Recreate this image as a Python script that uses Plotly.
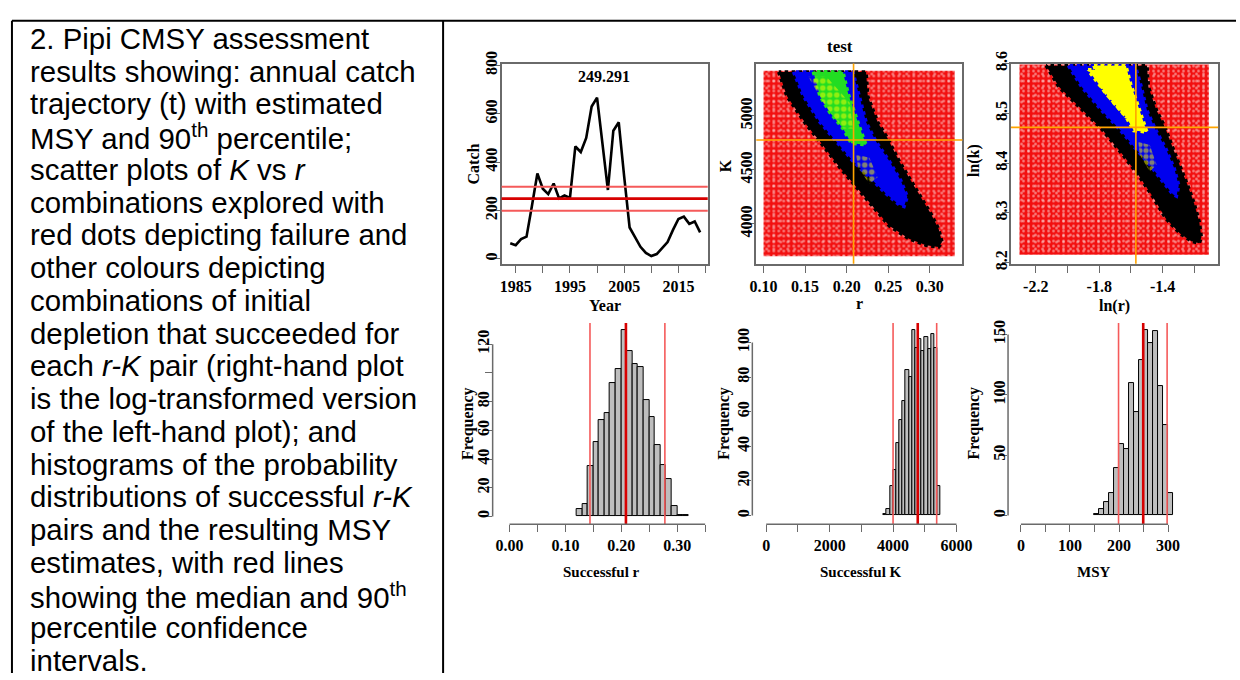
import numpy as np
import plotly.graph_objects as go

W, H = 1240, 680

# ---------------- data ----------------
years = list(range(1984, 2020))
catch = [65, 57, 82, 92, 220, 353, 290, 268, 312, 250, 262, 252, 465, 442, 500, 630,
         667, 475, 285, 530, 565, 340, 130, 90, 50, 25, 12, 20, 45, 70, 120, 165,
         175, 145, 155, 110]
msy_median = 249.291
msy_lower = 199.0
msy_upper = 298.0

r_median = 0.2083
r_lower = 0.144
r_upper = 0.278
k_median = 4778.0
k_lower = 4000.0
k_upper = 5375.0

# explored r-K space (red = failed)
r_explored = [0.100, 0.330]
k_explored = [3700, 5420]

# outlines of the successful r-K regions
black_r = [0.1183, 0.1282, 0.1520, 0.1679, 0.1917, 0.2115, 0.2313, 0.2512, 0.2750, 0.2956, 0.3107,
           0.3147, 0.3107, 0.3008, 0.2889, 0.2750, 0.2631, 0.2492, 0.2373, 0.2254, 0.2234]
black_k = [5408, 5183, 4913, 4763, 4523, 4342, 4162, 3982, 3862, 3802, 3787,
           3832, 3952, 4102, 4252, 4433, 4583, 4793, 4943, 5183, 5408]
blue_r = [0.1361, 0.1480, 0.1679, 0.1877, 0.2075, 0.2274, 0.2472, 0.2631,
          0.2690, 0.2730, 0.2651, 0.2512, 0.2353, 0.2234, 0.2155, 0.2075]
blue_k = [5408, 5183, 4943, 4763, 4583, 4433, 4282, 4177,
          4162, 4252, 4403, 4583, 4763, 4943, 5183, 5408]
green_r = [0.1599, 0.1679, 0.1798, 0.1956, 0.2056, 0.2234, 0.2175, 0.2095, 0.2016, 0.1956]
green_k = [5410, 5183, 5033, 4883, 4748, 4733, 4853, 5033, 5213, 5408]
yellow1_r = [0.1540, 0.1758, 0.2036, 0.2075, 0.1956, 0.1718]
yellow1_k = [5363, 5363, 5123, 4883, 4883, 5123]
yellow2_r = [0.2115, 0.2274, 0.2373, 0.2274, 0.2135]
yellow2_k = [4643, 4613, 4433, 4373, 4523]

# histograms (bin left edges, counts)
r_bin_w = 0.01
r_bins = [0.12, 0.13, 0.14, 0.15, 0.16, 0.17, 0.18, 0.19, 0.20, 0.21,
          0.22, 0.23, 0.24, 0.25, 0.26, 0.27, 0.28, 0.29, 0.30, 0.31]
r_counts = [5, 9, 35, 52, 67, 72, 93, 103, 130, 115, 106, 104, 81, 69, 50, 36, 26, 7, 1, 1]

k_bin_w = 100
k_bins = [3700, 3800, 3900, 4000, 4100, 4200, 4300, 4400, 4500, 4600,
          4700, 4800, 4900, 5000, 5100, 5200, 5300, 5400]
k_counts = [1, 4, 17, 26, 42, 55, 66, 84, 80, 107, 97, 102, 95, 103, 96, 105, 97, 17]

m_bin_w = 10
m_bins = [150, 160, 170, 180, 190, 200, 210, 220, 230, 240, 250, 260, 270, 280, 290, 300]
m_counts = [1, 5, 11, 19, 39, 59, 55, 110, 86, 129, 154, 143, 153, 107, 75, 19]

# tick definitions
catch_xt = [1985, 1990, 1995, 2000, 2005, 2010, 2015, 2020]
catch_xl = ["1985", "", "1995", "", "2005", "", "2015", ""]
catch_yt = [0, 200, 400, 600, 800]
r_xt = [0.10, 0.15, 0.20, 0.25, 0.30]
k_yt = [4000, 4500, 5000]
lnr_xt = [-2.2, -2.0, -1.8, -1.6, -1.4, -1.2]
lnr_xl = ["-2.2", "", "-1.8", "", "-1.4", ""]
lnk_yt = [8.2, 8.3, 8.4, 8.5, 8.6]
h1_xt = [0.00, 0.05, 0.10, 0.15, 0.20, 0.25, 0.30, 0.35]
h1_xl = ["0.00", "", "0.10", "", "0.20", "", "0.30", ""]
h1_yt = [0, 20, 40, 60, 80, 100, 120]
h1_yl = ["0", "20", "40", "60", "80", "", "120"]
h2_xt = [0, 1000, 2000, 3000, 4000, 5000, 6000]
h2_xl = ["0", "", "2000", "", "4000", "", "6000"]
h2_yt = [0, 20, 40, 60, 80, 100]
h3_xt = [0, 50, 100, 150, 200, 250, 300]
h3_xl = ["0", "", "100", "", "200", "", "300"]
h3_yt = [0, 50, 100, 150]

caption = [
    "2. Pipi CMSY assessment",
    "results showing: annual catch",
    "trajectory (t) with estimated",
    "MSY and 90<sup>th</sup> percentile;",
    "scatter plots of <i>K</i> vs <i>r</i>",
    "combinations explored with",
    "red dots depicting failure and",
    "other colours depicting",
    "combinations of initial",
    "depletion that succeeded for",
    "each <i>r-K</i> pair (right-hand plot",
    "is the log-transformed version",
    "of the left-hand plot); and",
    "histograms of the probability",
    "distributions of successful <i>r-K</i>",
    "pairs and the resulting MSY",
    "estimates, with red lines",
    "showing the median and 90<sup>th</sup>",
    "percentile confidence",
    "intervals.",
]

# ---------------- helpers ----------------
def px(x):
    return x / W

def py(y):
    return 1 - y / H

SERIF = "Liberation Serif"
AX_GREY = "#6a6a6a"
RED_MAIN = "rgb(215,0,0)"
RED_CI = "rgb(245,90,90)"

fig = go.Figure()

# ---- panel 1: catch ----
fig.add_trace(go.Scatter(x=years, y=catch, mode="lines",
                         line=dict(color="black", width=2.6),
                         xaxis="x", yaxis="y", showlegend=False, hoverinfo="skip"))

# ---- panels 2 and 3: r-K scatter as filled regions ----
def closed(a):
    return list(a) + [a[0]]

def region(xs, ys, xa, ya, fillcolor=None, pattern=None, edge=None):
    kw = dict(x=closed(xs), y=closed(ys), mode="lines", fill="toself",
              xaxis=xa, yaxis=ya, showlegend=False, hoverinfo="skip")
    if edge:
        kw["line"] = dict(color=edge, width=3.5, dash="dot")
    else:
        kw["line"] = dict(width=0, color="rgba(0,0,0,0)")
    if pattern:
        kw["fillpattern"] = pattern
        kw["fillcolor"] = "rgba(0,0,0,0)"
    else:
        kw["fillcolor"] = fillcolor
    fig.add_trace(go.Scatter(**kw))

def rk_panel(tr, tk, xa, ya, log=False):
    rx = [r_explored[0], r_explored[1], r_explored[1], r_explored[0]]
    ky = [k_explored[0], k_explored[0], k_explored[1], k_explored[1]]
    # failed pairs: dense red dots with white gaps
    region(tr(rx), tk(ky), xa, ya,
           pattern=dict(shape=".", fgcolor="white", bgcolor="#f21010", size=5, solidity=0.22))
    region(tr(rx), tk(ky), xa, ya,
           pattern=dict(shape=".", fgcolor="white", size=7, solidity=0.12))
    region(tr(black_r), tk(black_k), xa, ya, fillcolor="black", edge="black")
    region(tr(blue_r), tk(blue_k), xa, ya, fillcolor="#0000ee", edge="#0000ee")
    if not log:
        region(tr(green_r), tk(green_k), xa, ya, fillcolor="#22dd22", edge="#22dd22")
        region(tr(yellow1_r), tk(yellow1_k), xa, ya,
               pattern=dict(shape=".", fgcolor="#ffff00", size=7, solidity=0.5))
        region(tr(yellow2_r), tk(yellow2_k), xa, ya,
               pattern=dict(shape=".", fgcolor="#ffff00", size=7, solidity=0.5))
    else:
        region(tr(green_r), tk(green_k), xa, ya, fillcolor="#ffff00", edge="#ffff00")
        region(tr(yellow1_r), tk(yellow1_k), xa, ya, fillcolor="#ffff00", edge="#ffff00")
        region(tr(yellow2_r), tk(yellow2_k), xa, ya,
               pattern=dict(shape=".", fgcolor="#ffff00", size=6, solidity=0.6))

ident = lambda a: list(a)
logf = lambda a: list(np.log(np.array(a, dtype=float)))
rk_panel(ident, ident, "x2", "y2")
rk_panel(logf, logf, "x3", "y3", log=True)

# ---- histograms ----
def hist(bins, counts, w, xa, ya):
    centers = [b + w / 2 for b in bins]
    fig.add_trace(go.Bar(x=centers, y=counts, width=w,
                         marker=dict(color="#bebebe", line=dict(color="black", width=1)),
                         xaxis=xa, yaxis=ya, showlegend=False, hoverinfo="skip"))

hist(r_bins, r_counts, r_bin_w, "x4", "y4")
hist(k_bins, k_counts, k_bin_w, "x5", "y5")
hist(m_bins, m_counts, m_bin_w, "x6", "y6")

# ---------------- axes ----------------
tickfont = dict(family=SERIF, size=16, color="black", weight="bold")

def base_axis(dom, rng, tv, tt, boxed, extra):
    d = dict(domain=dom, range=rng, tickmode="array", tickvals=tv,
             ticks="outside", ticklen=7, tickwidth=1.3, tickcolor=AX_GREY,
             showgrid=False, zeroline=False, tickfont=tickfont, fixedrange=True)
    if tt is not None:
        d["ticktext"] = tt
    if boxed:
        d.update(showline=True, linecolor=AX_GREY, linewidth=1.5, mirror=True)
    else:
        d.update(showline=False)
    d.update(extra)
    return d

def box_axis(dom, rng, tv, tt=None, **extra):
    return base_axis(dom, rng, tv, tt, True, extra)

def open_axis(dom, rng, tv, tt=None, **extra):
    return base_axis(dom, rng, tv, tt, False, extra)

YROT = dict(tickangle=-90, ticklabelstandoff=-11)

top_y = [py(259), py(53)]
bot_y = [py(527), py(320)]

layout = dict(
    width=W, height=H, margin=dict(l=0, r=0, t=0, b=0),
    paper_bgcolor="white", plot_bgcolor="white", showlegend=False, bargap=0,
    xaxis=box_axis([px(499), px(707)], [1982.4, 2020.4], catch_xt, catch_xl, anchor="y"),
    yaxis=box_axis(top_y, [-20, 808], catch_yt, anchor="x", **YROT),
    xaxis2=box_axis([px(756), px(964)], [0.0913, 0.3393], r_xt,
                    [f"{v:.2f}" for v in r_xt], anchor="y2"),
    yaxis2=box_axis(top_y, [3631, 5486], k_yt, anchor="x2", **YROT),
    xaxis3=box_axis([px(1013), px(1222)], [-2.356, -1.05], lnr_xt, lnr_xl, anchor="y3"),
    yaxis3=box_axis(top_y, [8.198, 8.6], lnk_yt, [f"{v:.1f}" for v in lnk_yt],
                    anchor="x3", **YROT),
    xaxis4=open_axis([px(490), px(712)], [-0.0301, 0.3635], h1_xt, h1_xl, anchor="y4"),
    yaxis4=open_axis(bot_y, [-5.41, 134.7], h1_yt, h1_yl, anchor="x4", **YROT),
    xaxis5=open_axis([px(752), px(970)], [-437.5, 6375], h2_xt, h2_xl, anchor="y5"),
    yaxis5=open_axis(bot_y, [-5.06, 111.2], h2_yt, anchor="x5", **YROT),
    xaxis6=open_axis([px(1010), px(1185)], [-26.26, 327.3], h3_xt, h3_xl, anchor="y6"),
    yaxis6=open_axis(bot_y, [-7.25, 159.4], h3_yt, anchor="x6", **YROT),
)
fig.update_layout(**layout)

shapes = []
# MSY lines on catch plot
for val, col, wd in [(msy_lower, RED_CI, 2), (msy_upper, RED_CI, 2), (msy_median, RED_MAIN, 2.8)]:
    shapes.append(dict(type="line", xref="x domain", yref="y", x0=0, x1=1, y0=val, y1=val,
                       line=dict(color=col, width=wd)))
# crosshairs
for xa, ya, rv, kv in [("x2", "y2", r_median, k_median),
                       ("x3", "y3", float(np.log(r_median)), float(np.log(k_median)))]:
    shapes.append(dict(type="line", xref=xa, yref=ya + " domain", x0=rv, x1=rv, y0=0, y1=1,
                       line=dict(color="#ffa500", width=1.6)))
    shapes.append(dict(type="line", xref=xa + " domain", yref=ya, x0=0, x1=1, y0=kv, y1=kv,
                       line=dict(color="#ffa500", width=1.6)))
# histogram CI lines
for xa, ya, lo, md, hi in [("x4", "y4", r_lower, r_median, r_upper),
                           ("x5", "y5", k_lower, k_median, k_upper),
                           ("x6", "y6", msy_lower, msy_median, msy_upper)]:
    for val, col, wd in [(lo, RED_CI, 1.6), (hi, RED_CI, 1.6), (md, RED_MAIN, 2.6)]:
        shapes.append(dict(type="line", xref=xa, yref=ya + " domain", x0=val, x1=val,
                           y0=0, y1=1, line=dict(color=col, width=wd)))
# R-style open axis lines on histograms
for xa, ya, xt, yt in [("x4", "y4", h1_xt, h1_yt), ("x5", "y5", h2_xt, h2_yt),
                       ("x6", "y6", h3_xt, h3_yt)]:
    shapes.append(dict(type="line", xref=xa, yref=ya + " domain", x0=xt[0], x1=xt[-1],
                       y0=0, y1=0, line=dict(color=AX_GREY, width=1.5)))
    shapes.append(dict(type="line", xref=xa + " domain", yref=ya, x0=0, x1=0,
                       y0=yt[0], y1=yt[-1], line=dict(color=AX_GREY, width=1.5)))
# table borders
for x0, y0, x1, y1 in [(5, 9, W, 9), (5, 9, 5, H), (440, 9, 440, H)]:
    shapes.append(dict(type="line", xref="paper", yref="paper", x0=px(x0), x1=px(x1),
                       y0=py(y0), y1=py(y1), line=dict(color="black", width=2)))
fig.update_layout(shapes=shapes)

ann = []
def label(text, x, y, size=16, angle=0):
    ann.append(dict(text=text, x=px(x), y=py(y), xref="paper", yref="paper",
                    showarrow=False, textangle=angle, xanchor="center", yanchor="middle",
                    font=dict(family=SERIF, size=size, color="black", weight="bold")))

label(f"{msy_median:.3f}", 602, 66, 16)
label("test", 840, 35, 17)
label("Catch", 471, 156, 16, -90)
label("Year", 603, 302, 16)
label("K", 725, 158, 16, -90)
label("r", 860, 300, 16)
label("ln(k)", 975, 153, 16, -90)
label("ln(r)", 1117, 302, 16)
label("Frequency", 465, 423, 16, -90)
label("Frequency", 724, 423, 16, -90)
label("Frequency", 976, 423, 16, -90)
label("Successful r", 600, 576, 15)
label("Successful K", 862, 576, 15)
label("MSY", 1097, 576, 15)

for i, line in enumerate(caption):
    ann.append(dict(text=line, x=px(21), y=py(27 + 33.7 * i), xref="paper", yref="paper",
                    showarrow=False, xanchor="left", yanchor="middle", align="left",
                    font=dict(family="Liberation Sans", size=29.4, color="black")))
fig.update_layout(annotations=ann)

fig.write_html("out.html", post_script="document.body.style.margin='0px';")
